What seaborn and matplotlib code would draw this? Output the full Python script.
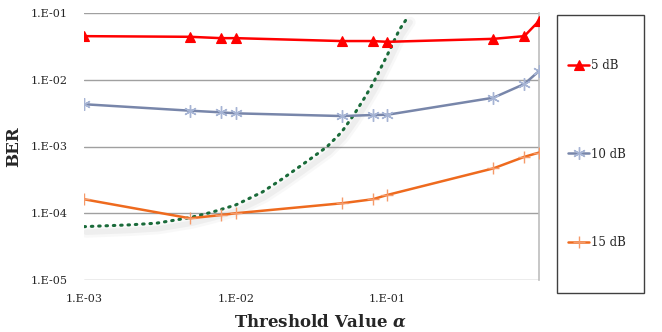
import numpy as np
import pandas as pd
import matplotlib
matplotlib.use("Agg")
import matplotlib.pyplot as plt
from matplotlib.patches import Rectangle
from matplotlib.transforms import offset_copy
import seaborn as sns

# threshold values (x) shared by the three measured series
alpha = [0.001, 0.005, 0.008, 0.01, 0.05, 0.08, 0.1, 0.5, 0.8, 1.0]
ber_5db = [0.045, 0.044, 0.042, 0.042, 0.038, 0.038, 0.037, 0.041, 0.045, 0.076]
ber_10db = [0.0043, 0.00344, 0.00325, 0.00314, 0.00286, 0.00296, 0.00299, 0.00538, 0.00863, 0.0135]
ber_15db = [1.62e-4, 8.4e-5, 9.4e-5, 1.0e-4, 1.41e-4, 1.62e-4, 1.88e-4, 4.7e-4, 7.0e-4, 8.1e-4]

trend_alpha = [0.001, 0.002, 0.003, 0.005, 0.007, 0.01, 0.015, 0.02, 0.03, 0.04,
               0.05, 0.06, 0.07, 0.08, 0.1, 0.12, 0.137]
trend_ber = [6.3e-5, 6.7e-5, 7.1e-5, 8.6e-5, 1.04e-4, 1.33e-4, 2.08e-4, 3.2e-4, 6.15e-4, 9.9e-4,
             1.65e-3, 2.96e-3, 5.15e-3, 8.6e-3, 0.0235, 0.056, 0.088]

series_labels = ["5 dB", "10 dB", "15 dB"]
x_ticks = [1e-3, 1e-2, 1e-1]
x_tick_labels = ["1.E-03", "1.E-02", "1.E-01"]
y_ticks = [1e-5, 1e-4, 1e-3, 1e-2, 1e-1]
y_tick_labels = ["1.E-05", "1.E-04", "1.E-03", "1.E-02", "1.E-01"]

sns.set_style("white")
plt.rcParams["font.family"] = ["DejaVu Serif"]
plt.rcParams["mathtext.fontset"] = "dejavuserif"

W, H = 662, 332
fig = plt.figure(figsize=(W / 100, H / 100), dpi=100)
ax = fig.add_axes([84 / W, 1 - 280 / H, (539 - 84) / W, (280 - 13) / H])

# soft shadow under the trend curve
shadow = offset_copy(ax.transData, fig=fig, x=1.5, y=-4, units="points")
ax.plot(trend_alpha, trend_ber, color="gray", lw=8, alpha=0.05, transform=shadow,
        solid_capstyle="round", zorder=1)
ax.plot(trend_alpha, trend_ber, color="gray", lw=4, alpha=0.08, transform=shadow,
        solid_capstyle="round", zorder=1)
sns.lineplot(x=trend_alpha, y=trend_ber, ax=ax, color="#1a6b3a", lw=2.2,
             linestyle=(0, (0.5, 1.9)), dash_capstyle="round", zorder=2)

sns.lineplot(x=alpha, y=ber_5db, ax=ax, color="#ff0000", lw=1.8, marker="^",
             markersize=7, markeredgecolor="#ff0000", markeredgewidth=0.8,
             label=series_labels[0], zorder=4)
sns.lineplot(x=alpha, y=ber_10db, ax=ax, color="#7886aa", lw=1.8, marker=(6, 2, 0),
             markersize=9, markeredgecolor="#a6b4d4", markeredgewidth=1.0,
             label=series_labels[1], zorder=4)
sns.lineplot(x=alpha, y=ber_15db, ax=ax, color="#ee6a1e", lw=1.8, marker="+",
             markersize=9, markeredgecolor="#f59a6a", markeredgewidth=1.0,
             label=series_labels[2], zorder=4)

ax.set_xscale("log")
ax.set_yscale("log")
ax.set_xlim(1e-3, 1.0)
ax.set_ylim(1e-5, 1e-1)

ax.set_xticks(x_ticks)
ax.set_xticklabels(x_tick_labels, fontsize=8)
ax.set_yticks(y_ticks)
ax.set_yticklabels(y_tick_labels, fontsize=8)
ax.minorticks_off()
ax.tick_params(axis="x", length=0, pad=10)
ax.tick_params(axis="y", length=0, pad=12)

for y in y_ticks:
    ax.axhline(y, color="#a0a0a0", lw=1.0, zorder=0)

for side in ["left", "top", "bottom"]:
    ax.spines[side].set_visible(False)
ax.spines["right"].set_color("#bdbdbd")
ax.spines["right"].set_linewidth(1.2)

ax.set_xlabel("Threshold Value $\\boldsymbol{\\alpha}$", fontsize=12, fontweight="bold")
ax.set_ylabel("BER", fontsize=12, fontweight="bold")
ax.xaxis.set_label_coords((320 - 84) / (539 - 84), -(322 - 280) / (280 - 13))
ax.yaxis.set_label_coords(-(84 - 22) / (539 - 84), 0.5)
ax.xaxis.label.set_verticalalignment("center")

handles, labels = ax.get_legend_handles_labels()
ax.get_legend().remove()

# legend box drawn separately, entries spread over its height
fig.patches.append(Rectangle((557 / W, 1 - 293 / H), (644 - 557) / W, (293 - 15) / H,
                             transform=fig.transFigure, fill=False,
                             edgecolor="#404040", lw=1.0))
fig.legend(handles, labels, loc="center left", bbox_to_anchor=(568 / W, 1 - 154 / H),
           frameon=False, fontsize=8.5, labelspacing=6.4, handlelength=1.8,
           handletextpad=0.15, borderpad=0, borderaxespad=0)

fig.savefig("out.png", dpi=100)
